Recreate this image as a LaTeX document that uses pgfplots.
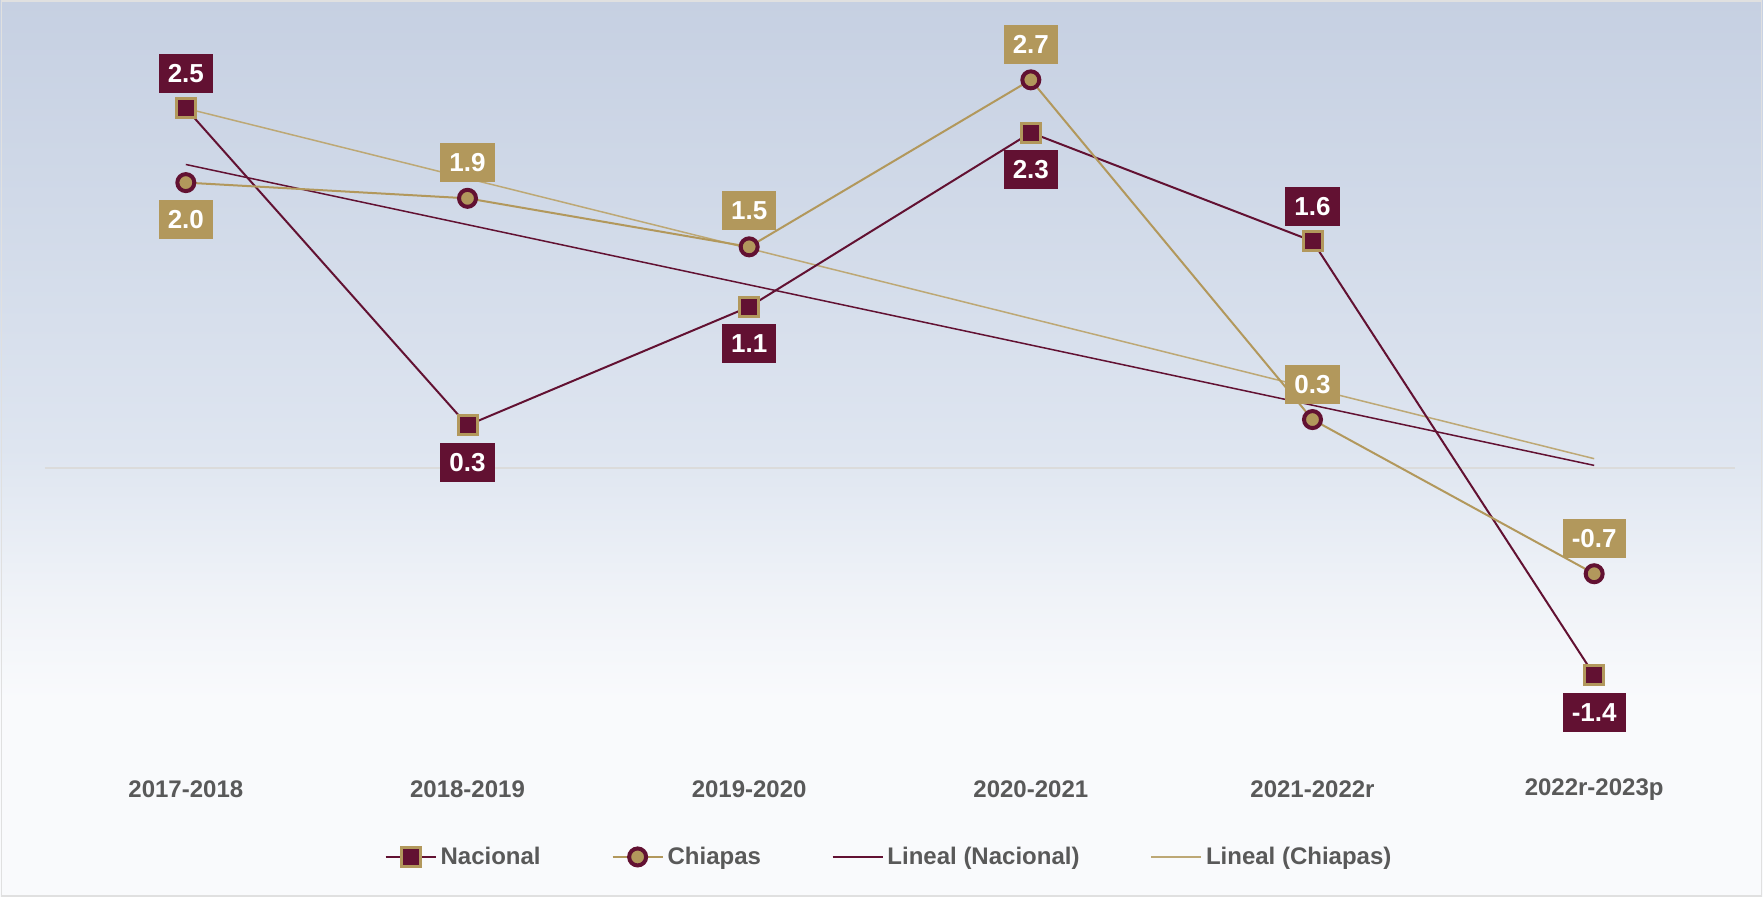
\documentclass[border=0pt]{standalone}
\usepackage{fontspec}
\setmainfont{Liberation Sans}
\usepackage{pgfplots}
\usepackage{pgfplotstable}
\pgfplotsset{compat=1.18}
\definecolor{maroon}{RGB}{98,17,50}
\definecolor{gold}{RGB}{178,152,92}
\definecolor{txtgray}{RGB}{89,89,89}
\definecolor{bgtop}{RGB}{198,208,226}
\definecolor{bgupper}{RGB}{208,217,232}
\definecolor{bgmid}{RGB}{222,229,240}
\definecolor{bglow}{RGB}{240,243,248}
\definecolor{bgbot}{RGB}{249,250,252}
\pgfdeclareverticalshading{bgshade}{100bp}{color(0bp)=(bgbot); color(25bp)=(bgbot); color(36bp)=(bgbot); color(41.5bp)=(bglow); color(50bp)=(bgmid); color(64bp)=(bgupper); color(75bp)=(bgtop); color(100bp)=(bgtop)}

\pgfplotstableread{
x y off lab
0 2.52 17.5 2.5
1 0.30 -18.5 0.3
2 1.13 -18.5 1.1
3 2.35 -18.5 2.3
4 1.59 17.5 1.6
5 -1.45 -18.5 -1.4
}\nactab
\pgfplotstableread{
x y off lab
0 2.00 -18.5 2.0
1 1.89 18 1.9
2 1.55 18 1.5
3 2.72 17.5 2.7
4 0.34 17.5 0.3
5 -0.74 17.5 -0.7
}\chiaptab

\begin{document}
\begin{tikzpicture}
\shade[shading=bgshade] (0,0) rectangle (881.5pt,448.5pt);
\draw[black!12, line width=0.8pt] (0.8pt,0.4pt) rectangle (880.7pt,448.1pt);
\begin{axis}[
  at={(22.5pt,71.7pt)}, anchor=south west,
  scale only axis, width=845pt, height=364pt,
  xmin=-0.5, xmax=5.5, ymin=-2, ymax=3.1,
  axis line style={draw=none},
  ytick=\empty,
  xtick={0,...,5},
  xticklabels={2017-2018,2018-2019,2019-2020,2020-2021,2021-2022r,2022r-2023p},
  major tick length=0pt,
  xticklabel style={anchor=center, yshift=-18pt, font=\bfseries\fontsize{12}{14}\selectfont, text=txtgray},
  extra y ticks={0}, extra y tick labels={},
  extra y tick style={grid=major, major grid style={draw=black!14, line width=0.8pt}},
  clip=false,
  legend columns=4,
  legend style={at={(0.5,-0.142)}, anchor=center, draw=none, fill=none,
    font=\bfseries\fontsize{12}{14}\selectfont, text=txtgray,
    /tikz/every even column/.append style={column sep=33.5pt}},
  legend image code/.code={\draw[mark repeat=2,mark phase=2,#1] plot coordinates {(0pt,0pt)(12.5pt,0pt)(25pt,0pt)};},
]
\addplot[maroon, line width=0.75pt, forget plot] coordinates {(0,2.127) (5,0.019)};
\addplot[gold!85, line width=0.75pt, forget plot] coordinates {(0,2.52) (5,0.066)};

\addplot[maroon, line width=1pt, mark=square*, mark size=4.75pt,
  mark options={fill=maroon, draw=gold, line width=1.5pt},
  point meta=explicit symbolic, nodes near coords,
  visualization depends on={\thisrow{off} \as \myoff},
  every node near coord/.append style={anchor=center, yshift=\myoff pt, fill=maroon, text=white,
    font=\bfseries\fontsize{13}{15}\selectfont, inner xsep=4.5pt, inner ysep=0pt, minimum height=19.5pt}]
  table[x=x, y=y, meta=lab]{\nactab};
\addplot[gold, line width=1pt, mark=*, mark size=4.25pt,
  mark options={fill=gold, draw=maroon, line width=2pt},
  point meta=explicit symbolic, nodes near coords,
  visualization depends on={\thisrow{off} \as \myoff},
  every node near coord/.append style={anchor=center, yshift=\myoff pt, fill=gold, text=white,
    font=\bfseries\fontsize{13}{15}\selectfont, inner xsep=4.5pt, inner ysep=0pt, minimum height=19.5pt}]
  table[x=x, y=y, meta=lab]{\chiaptab};
\addlegendimage{maroon, line width=0.75pt}
\addlegendimage{gold!85, line width=0.75pt}
\legend{Nacional, Chiapas, Lineal (Nacional), Lineal (Chiapas)}
\end{axis}
\end{tikzpicture}
\end{document}
